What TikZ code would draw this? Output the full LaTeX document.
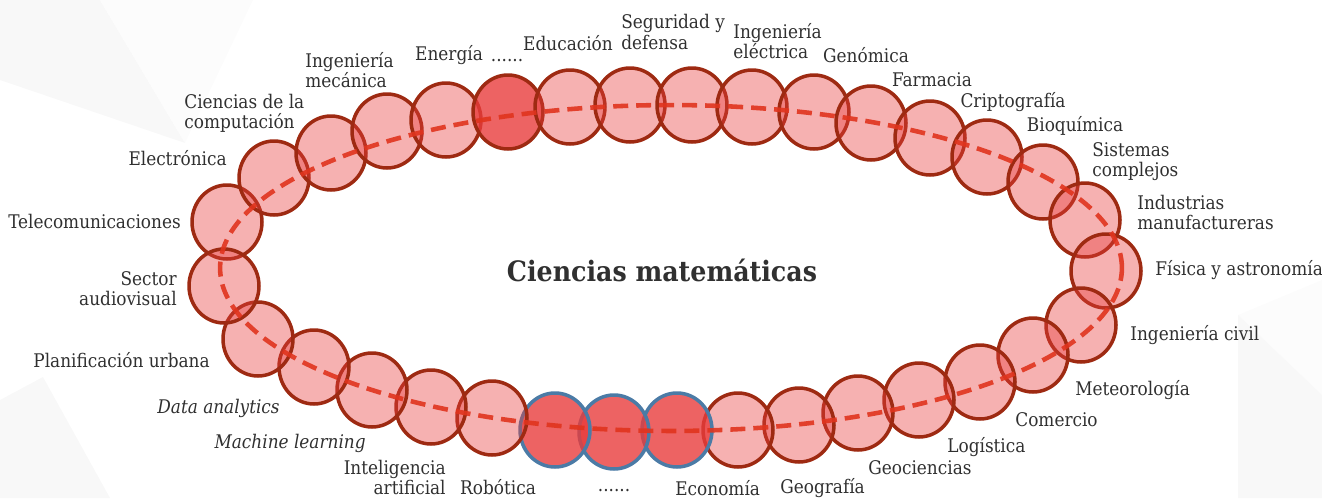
\documentclass[tikz,border=0pt]{standalone}
\usepackage{fontspec}
\setmainfont{DejaVu Serif Condensed}
\usepackage{tikz}
\usetikzlibrary{shapes.geometric}
\definecolor{ringred}{RGB}{158,42,18}
\definecolor{bubblered}{RGB}{232,60,60}
\definecolor{ringblue}{RGB}{75,123,166}
\definecolor{dashred}{RGB}{224,52,30}
\definecolor{textgray}{RGB}{48,48,48}
\definecolor{shadeA}{RGB}{248,248,248}
\definecolor{shadeB}{RGB}{252,252,252}

\begin{document}
\begin{tikzpicture}[x=0.02cm,y=-0.02cm,line cap=round,line join=round,
  bubble/.style={ellipse,minimum width=1.40cm,minimum height=1.48cm,inner sep=0pt,
    draw=ringred,line width=2pt,fill=bubblered,fill opacity=0.4},
  hot/.style={bubble,fill opacity=0.8},
  cool/.style={hot,draw=ringblue},
  lab/.style={text=textgray,inner sep=0pt,font=\fontsize{10.7}{11.4}\selectfont}]
\useasboundingbox (0,0) rectangle (1322,498);
% faint background wedges
\fill[shadeA] (0,0) -- (100,0) -- (185,143) -- (0,80) -- cycle;
\fill[shadeB] (100,0) -- (253,0) -- (185,143) -- cycle;
\fill[shadeA] (0,400) -- (43,377) -- (110,498) -- (0,498) -- cycle;
\fill[shadeB] (1238,315) -- (1322,280) -- (1322,498) -- (1238,498) -- cycle;
\fill[shadeA] (1238,315) -- (1322,395) -- (1322,498) -- (1238,498) -- cycle;
% ring of bubbles
\node[bubble] (c01) at (227,222) {};
\node[bubble] (c02) at (274,178) {};
\node[bubble] (c03) at (331,153) {};
\node[bubble] (c04) at (387,131) {};
\node[bubble] (c05) at (446,120) {};
\node[hot] (c06) at (508,112) {};
\node[bubble] (c07) at (570,107) {};
\node[bubble] (c08) at (630,105) {};
\node[bubble] (c09) at (692,105) {};
\node[bubble] (c10) at (752,107) {};
\node[bubble] (c11) at (814,112) {};
\node[bubble] (c12) at (871,123) {};
\node[bubble] (c13) at (930,138) {};
\node[bubble] (c14) at (987,157) {};
\node[bubble] (c15) at (1043,182) {};
\node[bubble] (c16) at (1085,220) {};
\node[bubble] (c17) at (1106,271) {};
\node[bubble] (c18) at (1081,325) {};
\node[bubble] (c19) at (1033,355) {};
\node[bubble] (c20) at (980,382) {};
\node[bubble] (c21) at (919,400) {};
\node[bubble] (c22) at (858,413) {};
\node[bubble] (c23) at (799,425) {};
\node[bubble] (c24) at (738,430) {};
\node[cool] (c25) at (677,430) {};
\node[cool] (c26) at (614,432) {};
\node[cool] (c27) at (555,430) {};
\node[bubble] (c28) at (492,418) {};
\node[bubble] (c29) at (431,407) {};
\node[bubble] (c30) at (372,390) {};
\node[bubble] (c31) at (314,367) {};
\node[bubble] (c32) at (258,339) {};
\node[bubble] (c33) at (224,286) {};
% dashed track
\draw[dashred,line width=2.6pt,line cap=butt,dash pattern=on 0.3cm off 0.16cm,opacity=0.9]
  (671,268) ellipse [x radius=9.02cm, y radius=3.26cm];
% centre
\node[text=textgray,font=\bfseries\fontsize{16}{19}\selectfont] (title) at (662,270) {Ciencias matemáticas};
% labels
\draw (181,221) node[lab,anchor=east] (tel) {Telecomunicaciones};
\draw (227,158) node[lab,anchor=east] (ele) {Electrónica};
\draw (184,113) node[lab,anchor=west,align=left] (cc) {Ciencias de la\\computación};
\draw (305,70) node[lab,anchor=west,align=left] (im) {Ingeniería\\mecánica};
\draw (449,55) node[lab] (ene) {Energía};
\draw (507,61) node[lab] (dotA) {......};
\draw (568,43) node[lab] (edu) {Educación};
\draw (621,32) node[lab,anchor=west,align=left] (seg) {Seguridad y\\defensa};
\draw (733,41) node[lab,anchor=west,align=left] (iel) {Ingeniería\\eléctrica};
\draw (866,55) node[lab] (gen) {Genómica};
\draw (932,80) node[lab] (far) {Farmacia};
\draw (1013,102) node[lab] (cri) {Criptografía};
\draw (1075,126) node[lab] (bio) {Bioquímica};
\draw (1092,162) node[lab,anchor=west,align=left] (sis) {Sistemas\\complejos};
\draw (1137,212) node[lab,anchor=west,align=left] (ind) {Industrias\\manufactureras};
\draw (1155,270) node[lab,anchor=west] (fis) {Física y astronomía};
\draw (1130,335) node[lab,anchor=west] (ic) {Ingeniería civil};
\draw (1075,390) node[lab,anchor=west] (met) {Meteorología};
\draw (1015,420) node[lab,anchor=west] (com) {Comercio};
\draw (947,447) node[lab,anchor=west] (log) {Logística};
\draw (868,468) node[lab,anchor=west] (geo) {Geociencias};
\draw (780,488) node[lab,anchor=west] (gra) {Geografía};
\draw (675,488) node[lab,anchor=west] (eco) {Economía};
\draw (614,491) node[lab] (dotB) {......};
\draw (498,487) node[lab] (rob) {Robótica};
\draw (446,477) node[lab,anchor=east,align=right] (ia) {Inteligencia\\artificial};
\draw (366,443) node[lab,anchor=east,font=\itshape\fontsize{10.7}{11.4}\selectfont] (ml) {Machine learning};
\draw (280,408) node[lab,anchor=east,font=\itshape\fontsize{10.7}{11.4}\selectfont] (da) {Data analytics};
\draw (210,360) node[lab,anchor=east] (pu) {Planificación urbana};
\draw (177,289) node[lab,anchor=east,align=right] (sa) {Sector\\audiovisual};
\end{tikzpicture}
\end{document}
